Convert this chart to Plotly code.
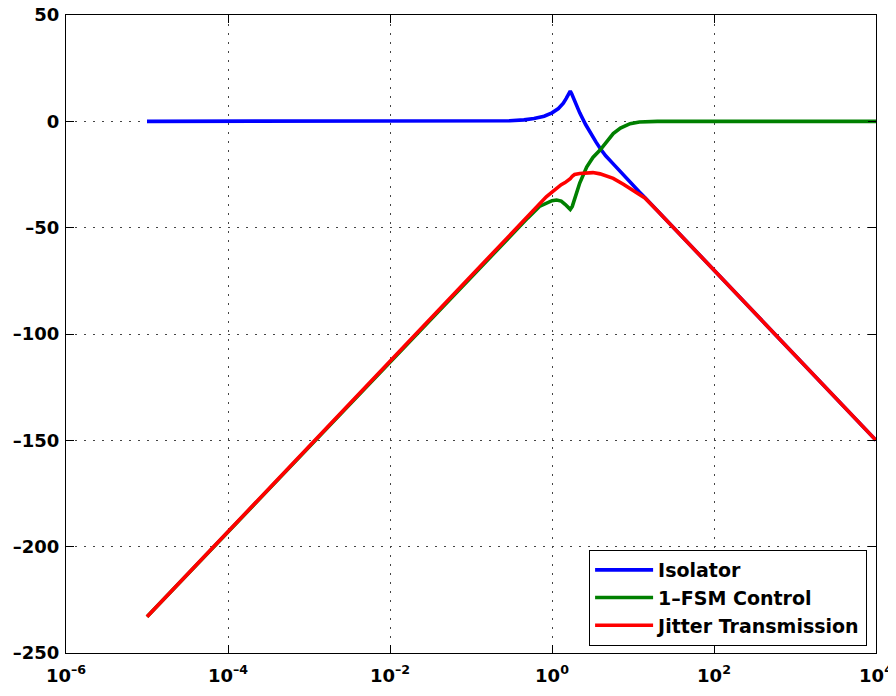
import plotly.graph_objects as go

# Isolator transmissibility (dB)
freq_iso = [1e-5, 1e-3, 1e-2, 0.1, 0.3, 0.45, 0.6, 0.8, 1.0, 1.2, 1.38, 1.5, 1.6, 1.68,
            1.75, 1.9, 2.2, 2.6, 2.95, 3.5, 3.92, 4.6, 5.7, 7.0, 8.5, 10.1, 12, 14, 20, 1e4]
iso_db = [0, 0, 0, 0.03, 0.3, 0.7, 1.3, 2.4, 4.0, 6.0, 8.5, 10.8, 12.8, 14.2,
          13.0, 9.4, 4.0, -1.5, -5.3, -9.8, -12.7, -16.2, -20.0, -23.8, -27.2, -30.1, -33.2, -35.8, -42.0, -150]

# 1 - FSM control (dB)
freq_fsm = [1e-5, 0.3, 0.5, 0.7, 0.85, 1.0, 1.14, 1.3, 1.45, 1.6, 1.68, 1.78, 1.95, 2.2,
            2.68, 3.2, 3.92, 4.8, 5.7, 7.0, 9.2, 12, 15, 20, 1e4]
fsm_db = [-233, -53.9, -45.5, -40.0, -38.3, -37.3, -37.0, -37.5, -39.0, -40.8, -41.4, -40.0, -35.0, -29.0,
          -21.5, -17.0, -13.5, -9.0, -5.8, -3.2, -1.1, -0.3, -0.1, 0, 0]

# Jitter transmission (dB)
freq_jit = [1e-5, 0.3, 0.5, 0.7, 0.85, 1.0, 1.14, 1.3, 1.45, 1.6, 1.68, 1.78, 1.9, 2.2,
            2.68, 3.2, 3.92, 4.8, 5.7, 7.6, 10, 12, 14, 20, 1e4]
jit_db = [-233, -53.6, -44.8, -38.6, -35.5, -33.3, -31.3, -29.8, -28.8, -27.8, -27.0, -25.8, -25.0, -24.5,
          -24.2, -24.1, -24.7, -25.6, -26.8, -29.6, -32.6, -34.4, -36.0, -42.0, -150]

x_tickvals = [1e-6, 1e-4, 1e-2, 1e0, 1e2, 1e4]
x_ticktext = ["10<sup>–6</sup>", "10<sup>–4</sup>", "10<sup>–2</sup>", "10<sup>0</sup>",
              "10<sup>2</sup>", "10<sup>4</sup>"]
y_tickvals = [50, 0, -50, -100, -150, -200, -250]
y_ticktext = ["50", "0", "–50", "–100", "–150", "–200", "–250"]

fig = go.Figure()
fig.add_trace(go.Scatter(x=freq_iso, y=iso_db, mode="lines", name="Isolator",
                         line=dict(color="#0000ff", width=3.6)))
fig.add_trace(go.Scatter(x=freq_fsm, y=fsm_db, mode="lines", name="1–FSM Control",
                         line=dict(color="#008000", width=3.6)))
fig.add_trace(go.Scatter(x=freq_jit, y=jit_db, mode="lines", name="Jitter Transmission",
                         line=dict(color="#ff0000", width=3.6)))

axis_font = dict(family="DejaVu Sans, sans-serif", size=18, color="black", weight="bold")

fig.update_layout(
    width=888, height=688,
    margin=dict(l=58, r=20, t=7, b=43, autoexpand=False),
    paper_bgcolor="white", plot_bgcolor="white",
    showlegend=True,
    legend=dict(x=0.989, y=0.011, xanchor="right", yanchor="bottom",
                bgcolor="white", bordercolor="black", borderwidth=1,
                font=dict(family="DejaVu Sans, sans-serif", size=19, color="black", weight="bold"),
                itemwidth=58, tracegroupgap=0),
    xaxis=dict(type="log", range=[-6, 4], tickvals=x_tickvals, ticktext=x_ticktext,
               showgrid=True, gridcolor="#444", griddash="1.5px,7.5px", gridwidth=1,
               showline=True, linecolor="black", linewidth=1, mirror="ticks",
               ticks="inside", ticklen=8, tickcolor="black", tickfont=axis_font,
               ticklabelstandoff=6, ticklabeloverflow="allow", automargin=False, zeroline=False),
    yaxis=dict(range=[-250, 50], tickvals=y_tickvals, ticktext=y_ticktext,
               showgrid=True, gridcolor="#444", griddash="1.5px,7.5px", gridwidth=1,
               showline=True, linecolor="black", linewidth=1, mirror="ticks",
               ticks="inside", ticklen=8, tickcolor="black", tickfont=axis_font,
               ticklabelstandoff=2, ticklabeloverflow="allow", automargin=False, zeroline=False),
)

fig.write_html("out.html")
